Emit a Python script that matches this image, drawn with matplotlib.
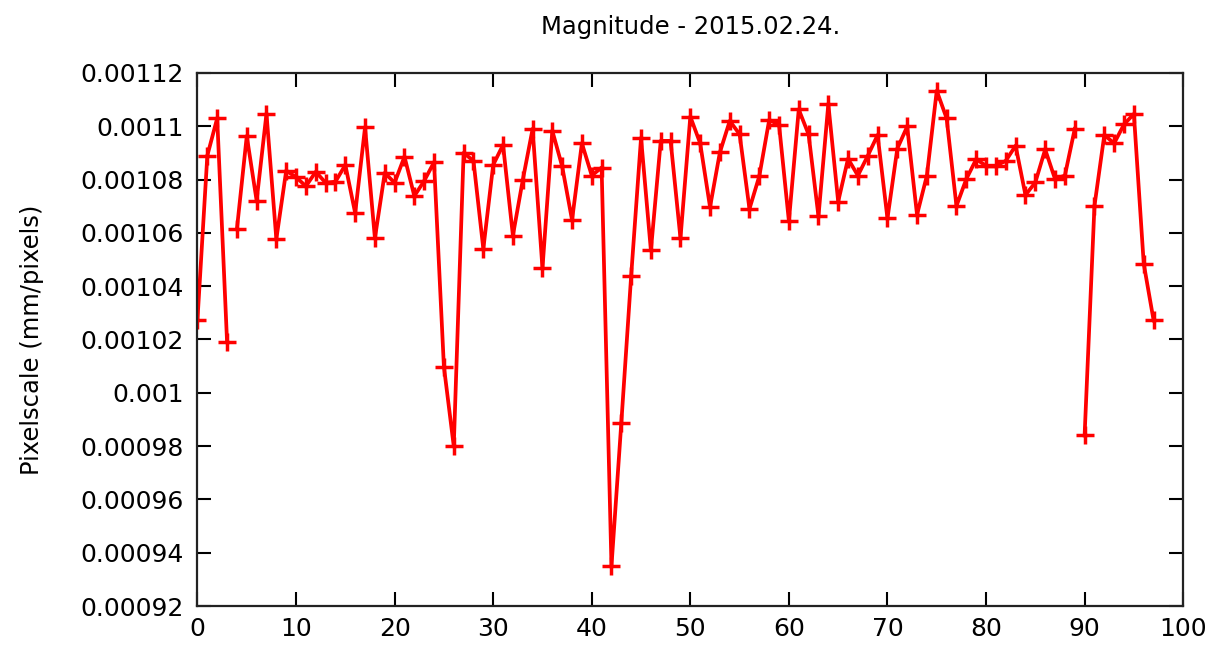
import matplotlib
matplotlib.use("Agg")
import matplotlib.pyplot as plt


# pixelscale per frame
pixelscale = [
    0.0010275, 0.0010890, 0.0011030, 0.0010192, 0.0010614, 0.0010963, 0.0010721, 0.0011047,
    0.0010577, 0.0010833, 0.0010809, 0.0010775, 0.0010829, 0.0010788, 0.0010792, 0.0010855,
    0.0010674, 0.0010996, 0.0010580, 0.0010825, 0.0010788, 0.0010886, 0.0010738, 0.0010795,
    0.0010865, 0.0010098, 0.0009800, 0.0010900, 0.0010870, 0.0010540, 0.0010855, 0.0010930,
    0.0010590, 0.0010798, 0.0010990, 0.0010467, 0.0010983, 0.0010849, 0.0010648, 0.0010936,
    0.0010815, 0.0010845, 0.0009350, 0.0009888, 0.0010440, 0.0010956, 0.0010534, 0.0010945,
    0.0010945, 0.0010580, 0.0011036, 0.0010936, 0.0010697, 0.0010902, 0.0011020, 0.0010970,
    0.0010690, 0.0010813, 0.0011023, 0.0011006, 0.0010644, 0.0011063, 0.0010969, 0.0010662,
    0.0011083, 0.0010717, 0.0010878, 0.0010815, 0.0010889, 0.0010967, 0.0010654, 0.0010916,
    0.0010999, 0.0010668, 0.0010815, 0.0011133, 0.0011030, 0.0010701, 0.0010802, 0.0010876,
    0.0010852, 0.0010852, 0.0010870, 0.0010927, 0.0010742, 0.0010789, 0.0010913, 0.0010802,
    0.0010815, 0.0010990, 0.0009840, 0.0010701, 0.0010967, 0.0010936, 0.0011007, 0.0011046,
    0.0010484, 0.0010272,
]
frames = list(range(len(pixelscale)))

# the line is broken (separate data blocks) before these frames
breaks = [4, 90]

yticks = [0.00092, 0.00094, 0.00096, 0.00098, 0.001, 0.00102, 0.00104,
          0.00106, 0.00108, 0.0011, 0.00112]
ytick_labels = ["0.00092", "0.00094", "0.00096", "0.00098", "0.001", "0.00102",
                "0.00104", "0.00106", "0.00108", "0.0011", "0.00112"]
xticks = [0, 10, 20, 30, 40, 50, 60, 70, 80, 90, 100]


def main():
    plt.rcParams['font.family'] = ['DejaVu Sans']
    fig = plt.figure(figsize=(12.16, 6.51), dpi=100)
    ax = fig.add_axes([0.1624, 0.069, 0.8106, 0.819])

    bounds = [0] + breaks + [len(pixelscale)]
    for a, b in zip(bounds[:-1], bounds[1:]):
        ax.plot(frames[a:b], pixelscale[a:b], color="#ff0000", linewidth=2.7,
                marker="+", markersize=13, markeredgewidth=2.5)

    ax.set_xlim(0, 100)
    ax.set_ylim(0.00092, 0.00112)
    ax.set_xticks(xticks)
    ax.set_yticks(yticks)
    ax.set_yticklabels(ytick_labels)

    ax.tick_params(direction="in", length=10, width=1.5, top=True, right=True,
                   labelsize=18, colors="black")
    ax.tick_params(axis="y", pad=10)
    ax.tick_params(axis="x", pad=8)
    for s in ax.spines.values():
        s.set_linewidth(1.6)
        s.set_color("#222222")

    ax.set_title("Magnitude - 2015.02.24.", fontsize=17.5, pad=28)
    ax.set_ylabel("Pixelscale (mm/pixels)", fontsize=17.5, labelpad=26)

    fig.savefig("out.png", dpi=100)


if __name__ == '__main__':
    main()
